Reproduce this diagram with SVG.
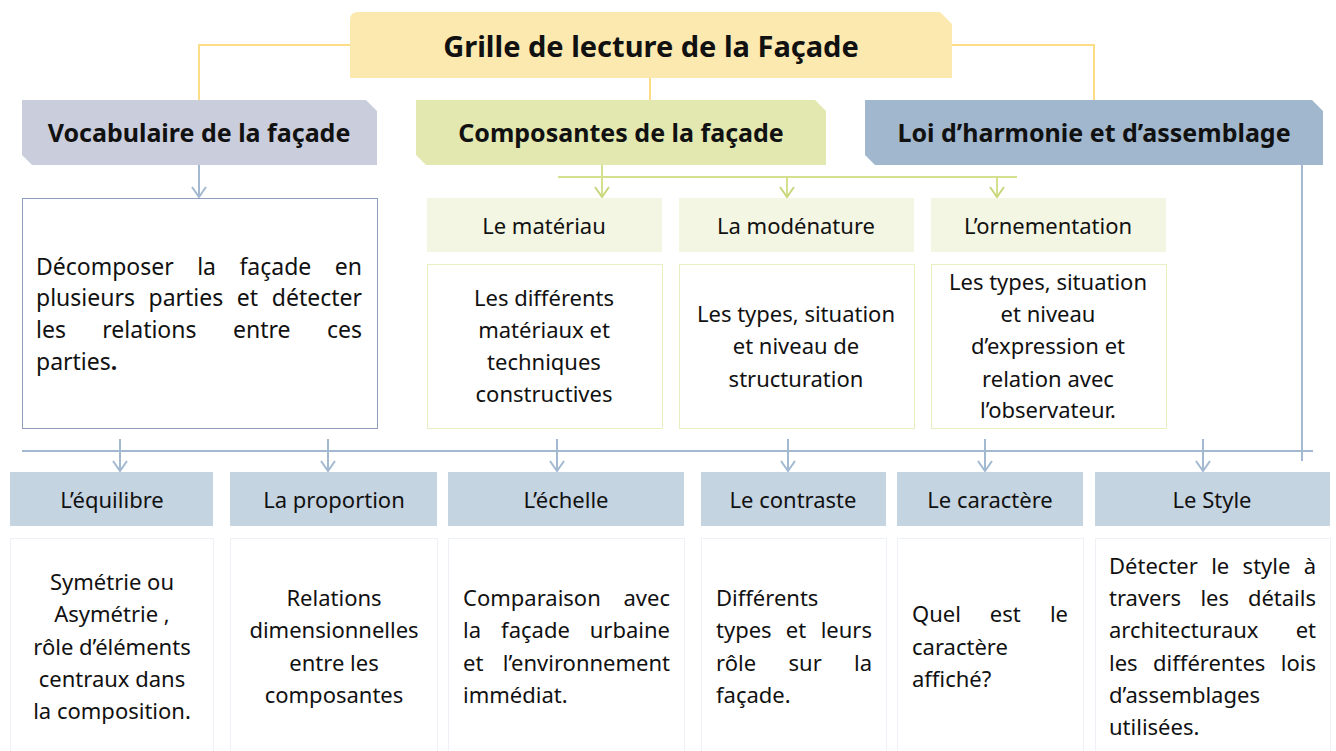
<svg xmlns="http://www.w3.org/2000/svg" width="1336" height="751" viewBox="0 0 1336 751">
<defs>
<style>
text{font-family:"Noto Sans","Open Sans","Liberation Sans",sans-serif;fill:#111;}
.t{font-size:29px;font-weight:bold;}
.h{font-size:25px;font-weight:bold;}
.b{font-size:22px;}
.v{font-size:23px;}
.c{text-anchor:middle;}
.e{text-anchor:end;}
.yl{stroke:#fcdc85;stroke-width:2;fill:none;}
.bl{stroke:#a3b9d1;stroke-width:2;fill:none;}
.gl{stroke:#d5e08e;stroke-width:2;fill:none;}
.dg{fill:#fff;stroke:#d4de82;stroke-width:1;stroke-dasharray:1 1;}
.db{fill:#fff;stroke:#dde3ec;stroke-width:1;stroke-dasharray:1 1;}
.gh{fill:#f3f6e2;}
.bh{fill:#c5d4e1;}
</style>
<marker id="ab" viewBox="0 0 16 16" markerWidth="16" markerHeight="16" refX="12" refY="8" orient="auto" markerUnits="userSpaceOnUse"><path d="M2,1 L12,8 L2,15" fill="none" stroke="#a3b9d1" stroke-width="2"/></marker>
<marker id="ag" viewBox="0 0 16 16" markerWidth="16" markerHeight="16" refX="12" refY="8" orient="auto" markerUnits="userSpaceOnUse"><path d="M2,1 L12,8 L2,15" fill="none" stroke="#c9d67c" stroke-width="2"/></marker>
</defs>
<rect width="1336" height="751" fill="#fff"/>
<g id="connectors">
<path class="yl" d="M350,45 H199 V100 M952,45 H1094 V100 M650,78 V100"/>
<path class="bl" d="M199,165 V197" marker-end="url(#ab)"/>
<path class="gl" d="M558,177 H1017"/>
<path class="gl" d="M602,165 V197" marker-end="url(#ag)"/>
<path class="gl" d="M787,177 V197" marker-end="url(#ag)"/>
<path class="gl" d="M997,177 V197" marker-end="url(#ag)"/>
<path class="bl" d="M22,451 H1313 M1302,165 V461"/>
<path class="bl" d="M120,439 V471" marker-end="url(#ab)"/>
<path class="bl" d="M328,439 V471" marker-end="url(#ab)"/>
<path class="bl" d="M557,439 V471" marker-end="url(#ab)"/>
<path class="bl" d="M788,439 V471" marker-end="url(#ab)"/>
<path class="bl" d="M985,439 V471" marker-end="url(#ab)"/>
<path class="bl" d="M1203,439 V471" marker-end="url(#ab)"/>
</g>
<g id="title">
<path d="M358,12 H940 L952,24 V78 H350 V20 Q350,12 358,12 Z" fill="#fce9b0"/>
<text class="t c" x="651" y="57">Grille de lecture de la Façade</text>
</g>
<g id="vocabulaire">
<path d="M22,100 H366 L377,111 V165 H32 L22,155 Z" fill="#c9cddc"/>
<text class="h c" x="199" y="142">Vocabulaire de la façade</text>
</g>
<g id="composantes">
<path d="M416,100 H815 L826,111 V165 H426 L416,155 Z" fill="#e2e8b0"/>
<text class="h c" x="621" y="142">Composantes de la façade</text>
</g>
<g id="loi">
<path d="M865,100 H1312 L1323,111 V165 H875 L865,155 Z" fill="#a1b7cd"/>
<text class="h c" x="1094" y="142">Loi d’harmonie et d’assemblage</text>
</g>
<g id="vocab-detail">
<rect x="22.5" y="198.5" width="355" height="230" fill="#fff" stroke="#8f9dbd" stroke-width="1"/>
<text class="v" y="275"><tspan x="36">Décomposer</tspan><tspan x="206.6" class="c">la</tspan><tspan x="275.4" class="c">façade</tspan><tspan x="362" class="e">en</tspan></text>
<text class="v" y="306"><tspan x="36">plusieurs</tspan><tspan x="185.9" class="c">parties</tspan><tspan x="247.5" class="c">et</tspan><tspan x="362" class="e">détecter</tspan></text>
<text class="v" y="338"><tspan x="36">les</tspan><tspan x="149.4" class="c">relations</tspan><tspan x="261.8" class="c">entre</tspan><tspan x="362" class="e">ces</tspan></text>
<text class="v" x="36" y="370">parties<tspan font-weight="bold">.</tspan></text>
</g>
<g id="materiau">
<rect class="gh" x="427" y="198" width="235" height="54"/>
<text class="b c" x="544" y="234">Le matériau</text>
<rect class="dg" x="427.5" y="264.5" width="235" height="164"/>
<text class="b c" x="544" y="306">Les différents</text>
<text class="b c" x="544" y="338">matériaux et</text>
<text class="b c" x="544" y="370">techniques</text>
<text class="b c" x="544" y="402">constructives</text>
</g>
<g id="modenature">
<rect class="gh" x="679" y="198" width="235" height="54"/>
<text class="b c" x="796" y="234">La modénature</text>
<rect class="dg" x="679.5" y="264.5" width="235" height="164"/>
<text class="b c" x="796" y="322">Les types, situation</text>
<text class="b c" x="796" y="354">et niveau de</text>
<text class="b c" x="796" y="387">structuration</text>
</g>
<g id="ornementation">
<rect class="gh" x="931" y="198" width="235" height="54"/>
<text class="b c" x="1048" y="234">L’ornementation</text>
<rect class="dg" x="931.5" y="264.5" width="235" height="164"/>
<text class="b c" x="1048" y="290">Les types, situation</text>
<text class="b c" x="1048" y="322">et niveau</text>
<text class="b c" x="1048" y="354">d’expression et</text>
<text class="b c" x="1048" y="387">relation avec</text>
<text class="b c" x="1048" y="418">l’observateur.</text>
</g>
<g id="equilibre">
<rect class="bh" x="10" y="472" width="203" height="54"/>
<text class="b c" x="112" y="508">L’équilibre</text>
<rect class="db" x="10.5" y="538.5" width="203" height="220"/>
<text class="b c" x="112" y="590">Symétrie ou</text>
<text class="b c" x="112" y="622">Asymétrie ,</text>
<text class="b c" x="112" y="655">rôle d’éléments</text>
<text class="b c" x="112" y="687">centraux dans</text>
<text class="b c" x="112" y="719">la composition.</text>
</g>
<g id="proportion">
<rect class="bh" x="230" y="472" width="207" height="54"/>
<text class="b c" x="334" y="508">La proportion</text>
<rect class="db" x="230.5" y="538.5" width="207" height="220"/>
<text class="b c" x="334" y="606">Relations</text>
<text class="b c" x="334" y="638">dimensionnelles</text>
<text class="b c" x="334" y="671">entre les</text>
<text class="b c" x="334" y="703">composantes</text>
</g>
<g id="echelle">
<rect class="bh" x="448" y="472" width="236" height="54"/>
<text class="b c" x="566" y="508">L’échelle</text>
<rect class="db" x="448.5" y="538.5" width="236" height="220"/>
<text class="b" y="606"><tspan x="463">Comparaison</tspan><tspan x="670" class="e">avec</tspan></text>
<text class="b" y="638"><tspan x="463">la</tspan><tspan x="535.5" class="c">façade</tspan><tspan x="670" class="e">urbaine</tspan></text>
<text class="b" y="671"><tspan x="463">et</tspan><tspan x="670" class="e">l’environnement</tspan></text>
<text class="b" x="463" y="703">immédiat.</text>
</g>
<g id="contraste">
<rect class="bh" x="701" y="472" width="185" height="54"/>
<text class="b c" x="793" y="508">Le contraste</text>
<rect class="db" x="701.5" y="538.5" width="185" height="220"/>
<text class="b" x="716" y="606">Différents</text>
<text class="b" y="638"><tspan x="716">types</tspan><tspan x="796" class="c">et</tspan><tspan x="872" class="e">leurs</tspan></text>
<text class="b" y="671"><tspan x="716">rôle</tspan><tspan x="805.2" class="c">sur</tspan><tspan x="872" class="e">la</tspan></text>
<text class="b" x="716" y="703">façade.</text>
</g>
<g id="caractere">
<rect class="bh" x="897" y="472" width="186" height="54"/>
<text class="b c" x="990" y="508">Le caractère</text>
<rect class="db" x="897.5" y="538.5" width="186" height="220"/>
<text class="b" y="622"><tspan x="912">Quel</tspan><tspan x="1005.3" class="c">est</tspan><tspan x="1068" class="e">le</tspan></text>
<text class="b" x="912" y="655">caractère</text>
<text class="b" x="912" y="687">affiché?</text>
</g>
<g id="style">
<rect class="bh" x="1095" y="472" width="235" height="54"/>
<text class="b c" x="1212" y="508">Le Style</text>
<rect class="db" x="1095.5" y="538.5" width="235" height="220"/>
<text class="b" y="574"><tspan x="1109">Détecter</tspan><tspan x="1220.2" class="c">le</tspan><tspan x="1266.5" class="c">style</tspan><tspan x="1316" class="e">à</tspan></text>
<text class="b" y="606"><tspan x="1109">travers</tspan><tspan x="1214.7" class="c">les</tspan><tspan x="1316" class="e">détails</tspan></text>
<text class="b" y="638"><tspan x="1109">architecturaux</tspan><tspan x="1316" class="e">et</tspan></text>
<text class="b" y="671"><tspan x="1109">les</tspan><tspan x="1209.2" class="c">différentes</tspan><tspan x="1316" class="e">lois</tspan></text>
<text class="b" x="1109" y="703">d’assemblages</text>
<text class="b" x="1109" y="735">utilisées.</text>
</g>
</svg>
